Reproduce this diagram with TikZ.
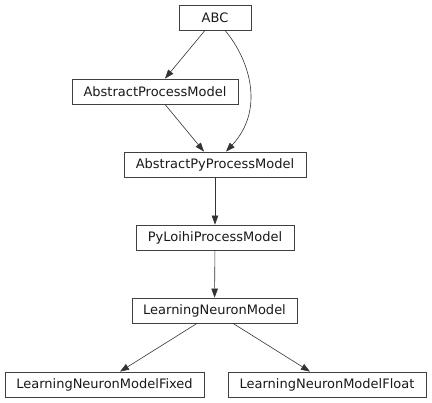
\documentclass[tikz,border=0pt]{standalone}
\usepackage{fontspec}
\setmainfont{DejaVu Sans}
\usetikzlibrary{arrows.meta}
\begin{document}
\begin{tikzpicture}[x=1pt,y=-1pt,
  cls/.style={draw=black!75,line width=0.8pt,rectangle,minimum height=25pt,inner sep=0pt,font=\fontsize{13pt}{15pt}\selectfont,text=black!90},
  edge/.style={draw=black!80,line width=0.6pt,-{Triangle[length=9pt,width=6.5pt]}}]
\useasboundingbox (0,0) rectangle (432,403);
\node[cls,minimum width=72pt] (abc) at (215,17.5) {ABC};
\node[cls,minimum width=166pt] (apm) at (155,91.5) {AbstractProcessModel};
\node[cls,minimum width=182pt] (apy) at (215,164.5) {AbstractPyProcessModel};
\node[cls,minimum width=158pt] (ply) at (215,237.5) {PyLoihiProcessModel};
\node[cls,minimum width=165pt] (lnm) at (214.5,310.5) {LearningNeuronModel};
\node[cls,minimum width=199pt] (fix) at (104.5,384.5) {LearningNeuronModelFixed};
\node[cls,minimum width=198pt] (flt) at (327,384.5) {LearningNeuronModelFloat};
\draw[edge] (abc.south -| 205,0) -- (apm.north -| 165,0);
\draw[edge] (apm.south -| 165,0) -- (apy.north -| 204,0);
\draw[edge] (abc.south -| 225,0) .. controls (250,60) and (265,110) .. (apy.north -| 226,0);
\draw[edge] (apy) -- (ply);
\draw[edge] (ply) -- (lnm);
\draw[edge] (lnm.south -| 197,0) -- (fix.north -| 120,0);
\draw[edge] (lnm.south -| 233,0) -- (flt.north -| 310,0);
\end{tikzpicture}
\end{document}
